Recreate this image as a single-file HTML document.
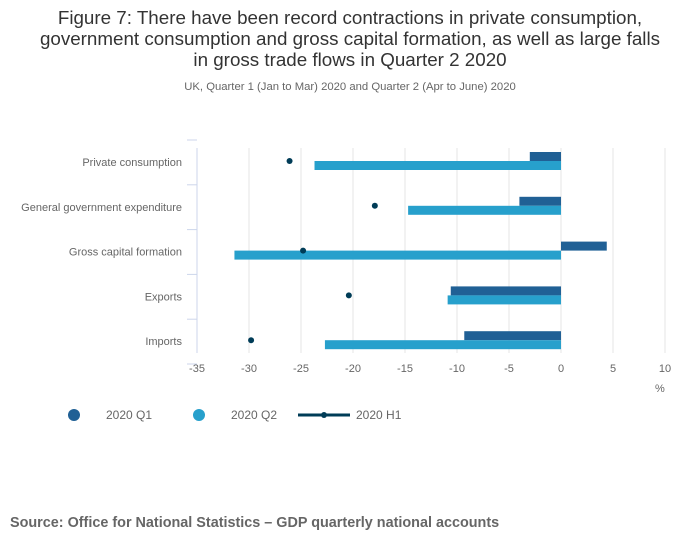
<!DOCTYPE html>
<html><head><meta charset="utf-8"><style>
body{margin:0;background:#fff;font-family:"Liberation Sans",sans-serif;}
svg text{font-family:"Liberation Sans",sans-serif;}
</style></head><body>
<svg width="700" height="549">
<text x="350" y="24" text-anchor="middle" font-size="18.8" fill="#333">Figure 7: There have been record contractions in private consumption,</text>
<text x="350" y="45" text-anchor="middle" font-size="18.8" fill="#333">government consumption and gross capital formation, as well as large falls</text>
<text x="350" y="66" text-anchor="middle" font-size="18.8" fill="#333">in gross trade flows in Quarter 2 2020</text>
<text x="350" y="90" text-anchor="middle" font-size="11.3" fill="#666">UK, Quarter 1 (Jan to Mar) 2020 and Quarter 2 (Apr to June) 2020</text>
<g id="grid"></g><g id="bars"></g>
<line x1="197" y1="148" x2="197" y2="353" stroke="#ccd6eb"/>
<text x="655" y="392" font-size="11" fill="#666">%</text>
<g>
<circle cx="74" cy="415" r="6" fill="#206095"/>
<text x="106" y="419" font-size="12" fill="#666">2020 Q1</text>
<circle cx="199" cy="415" r="6" fill="#27a0cc"/>
<text x="231" y="419" font-size="12" fill="#666">2020 Q2</text>
<line x1="298" y1="415" x2="350" y2="415" stroke="#003c57" stroke-width="3"/>
<circle cx="324" cy="415" r="3" fill="#003c57"/>
<text x="356" y="419" font-size="12" fill="#666">2020 H1</text>
</g>
<text x="10" y="527" font-size="14.4" font-weight="bold" fill="#666">Source: Office for National Statistics – GDP quarterly national accounts</text>
</svg>
<script>
const categories=["Private consumption","General government expenditure","Gross capital formation","Exports","Imports"];
const q1=[-3.0,-4.0,4.4,-10.6,-9.3];
const q2=[-23.7,-14.7,-31.4,-10.9,-22.7];
const h1=[-26.1,-17.9,-24.8,-20.4,-29.8];
const ticks=[-35,-30,-25,-20,-15,-10,-5,0,5,10];
const NS="http://www.w3.org/2000/svg";
const x=v=>197+(v+35)*(665-197)/45;
const yc=i=>162+i*44.8;
function mk(t,a,p){const e=document.createElementNS(NS,t);for(const k in a)e.setAttribute(k,a[k]);p.appendChild(e);return e;}
const g=document.getElementById('grid'),b=document.getElementById('bars');
ticks.forEach(t=>{
 if(t!==-35){const l=mk('line',{x1:x(t),x2:x(t),y1:148,y2:353,stroke:'#e6e6e6'},g);
 
 }
 const tx=mk('text',{x:x(t),y:372,'text-anchor':'middle','font-size':11,fill:'#666'},g);tx.textContent=t;
 
 
});
for(let i=0;i<=5;i++){const l=mk('line',{x1:187,x2:197,y1:140+i*44.8,y2:140+i*44.8,stroke:'#ccd6eb'},g);
 
 }
categories.forEach((c,i)=>{
 const y=yc(i);
 const t=mk('text',{x:182,y:y+4,'text-anchor':'end','font-size':11,fill:'#666'},g);t.textContent=c;
 
 
 const r1=mk('rect',{x:Math.min(x(0),x(q1[i])),y:y-10,width:Math.abs(x(q1[i])-x(0)),height:9,fill:'#206095'},b);
 
 
 const r2=mk('rect',{x:Math.min(x(0),x(q2[i])),y:y-1,width:Math.abs(x(q2[i])-x(0)),height:9,fill:'#27a0cc'},b);
 
 
 const d=mk('circle',{cx:x(h1[i]),cy:y-1,r:3,fill:'#003c57'},b);
 
 
});
</script>
</body></html>
